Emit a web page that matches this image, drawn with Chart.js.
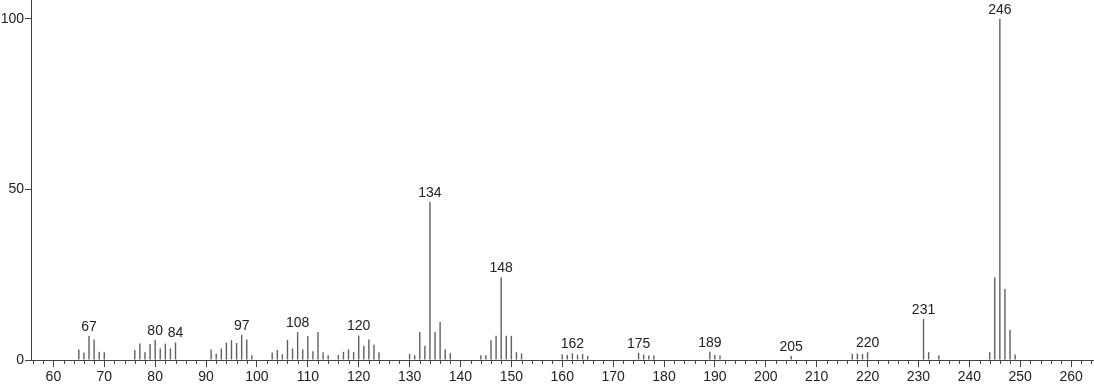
<!DOCTYPE html>
<html>
<head>
<meta charset="utf-8">
<script src="https://cdn.jsdelivr.net/npm/chart.js@4.4.1/dist/chart.umd.min.js"></script>
<style>
  html, body { margin: 0; padding: 0; background: #fff; }
  #wrap { width: 1094px; height: 384px; }
</style>
</head>
<body>
<div id="wrap"><canvas id="spectrum"></canvas></div>
<script>
// m/z values and relative intensities
var mz = [65, 66, 67, 68, 69, 70, 76, 77, 78, 79, 80, 81, 82, 83, 84,
  91, 92, 93, 94, 95, 96, 97, 98, 99,
  103, 104, 105, 106, 107, 108, 109, 110, 111, 112, 113, 114,
  116, 117, 118, 119, 120, 121, 122, 123, 124,
  130, 131, 132, 133, 134, 135, 136, 137, 138,
  144, 145, 146, 147, 148, 149, 150, 151, 152,
  160, 161, 162, 163, 164, 165, 175, 176, 177, 178, 189, 190, 191,
  205, 217, 218, 219, 220, 231, 232, 234, 244, 245, 246, 247, 248, 249];
var intensity = [3.1, 2.2, 7.0, 6.0, 2.4, 2.3, 2.9, 4.8, 2.3, 4.7, 5.9, 3.4, 4.8, 3.4, 5.1,
  3.1, 1.8, 3.4, 5.1, 5.8, 5.0, 7.3, 6.0, 1.4,
  2.2, 2.9, 1.7, 5.9, 3.4, 8.2, 3.1, 7.0, 2.6, 8.2, 2.3, 1.4,
  1.5, 2.4, 3.1, 2.3, 7.2, 4.1, 6.0, 4.5, 2.3,
  1.8, 1.4, 8.2, 4.2, 46.3, 8.2, 11.1, 3.1, 2.0,
  1.4, 1.4, 5.8, 7.1, 24.2, 7.1, 7.1, 2.3, 1.9,
  1.7, 1.5, 2.0, 1.5, 1.8, 1.2, 2.1, 1.6, 1.3, 1.3, 2.4, 1.5, 1.3,
  1.2, 1.8, 1.9, 1.8, 2.3, 12.0, 2.3, 1.4, 2.3, 24.2, 100, 20.8, 8.8, 1.6];
var labelledPeaks = [67, 80, 84, 97, 108, 120, 134, 148, 162, 175, 189, 205, 220, 231, 246];
var xTickLabels = [60, 70, 80, 90, 100, 110, 120, 130, 140, 150, 160, 170, 180, 190, 200, 210, 220, 230, 240, 250, 260];
var yTickLabels = [0, 50, 100];

var FONT = "'Liberation Sans', Arial, sans-serif";

var points = [];
for (var i = 0; i < mz.length; i++) {
  points.push({x: mz[i], y: intensity[i]});
}

// peak labels and the small 2-unit ticks under the m/z axis
var spectrumExtras = {
  id: 'spectrumExtras',
  afterDraw: function(chart) {
    var ctx = chart.ctx;
    var xs = chart.scales.x;
    var ys = chart.scales.y;
    var base = ys.getPixelForValue(0);

    ctx.save();
    ctx.strokeStyle = '#444';
    ctx.lineWidth = 1;
    ctx.beginPath();
    for (var v = 56; v <= 264; v += 2) {
      if (v % 10 === 0) continue;
      var px = Math.round(xs.getPixelForValue(v)) + 0.5;
      ctx.moveTo(px, base);
      ctx.lineTo(px, base + 4);
    }
    ctx.stroke();

    ctx.fillStyle = '#222';
    ctx.font = '14px ' + FONT;
    ctx.textAlign = 'center';
    ctx.textBaseline = 'bottom';
    for (var j = 0; j < labelledPeaks.length; j++) {
      var m = labelledPeaks[j];
      var k = mz.indexOf(m);
      var top = ys.getPixelForValue(intensity[k]);
      ctx.fillText(String(m), xs.getPixelForValue(m), top - 2);
    }
    ctx.restore();
  }
};

document.addEventListener('DOMContentLoaded', function() {
  new Chart(document.getElementById('spectrum'), {
    type: 'bar',
    data: {
      datasets: [{
        data: points,
        backgroundColor: '#606060',
        borderWidth: 0,
        barThickness: 1.4,
        inflateAmount: 0,
        grouped: false
      }]
    },
    options: {
      responsive: true,
      maintainAspectRatio: false,
      animation: false,
      layout: { padding: 0 },
      plugins: {
        legend: { display: false },
        tooltip: { enabled: false }
      },
      scales: {
        x: {
          type: 'linear',
          min: 55.6,
          max: 264.5,
          offset: false,
          afterBuildTicks: function(scale) {
            scale.ticks = xTickLabels.map(function(v) { return {value: v}; });
          },
          afterFit: function(scale) {
            scale.height = 24;
            scale.paddingLeft = 0;
            scale.paddingRight = 0;
          },
          border: { display: true, color: '#444', width: 1 },
          grid: {
            offset: false,
            drawOnChartArea: false,
            drawTicks: true,
            tickLength: 7,
            tickColor: '#444'
          },
          ticks: {
            autoSkip: false,
            maxRotation: 0,
            padding: 2,
            color: '#222',
            font: { family: FONT, size: 14 }
          }
        },
        y: {
          type: 'linear',
          min: 0,
          max: 105.5,
          afterBuildTicks: function(scale) {
            scale.ticks = yTickLabels.map(function(v) { return {value: v}; });
          },
          afterFit: function(scale) {
            scale.width = 31;
            scale.paddingTop = 0;
            scale.paddingBottom = 0;
          },
          border: { display: true, color: '#444', width: 1 },
          grid: {
            drawOnChartArea: false,
            drawTicks: true,
            tickLength: 6,
            tickColor: '#444'
          },
          ticks: {
            padding: 1,
            color: '#222',
            font: { family: FONT, size: 14 }
          }
        }
      }
    },
    plugins: [spectrumExtras]
  });
});
</script>
</body>
</html>
